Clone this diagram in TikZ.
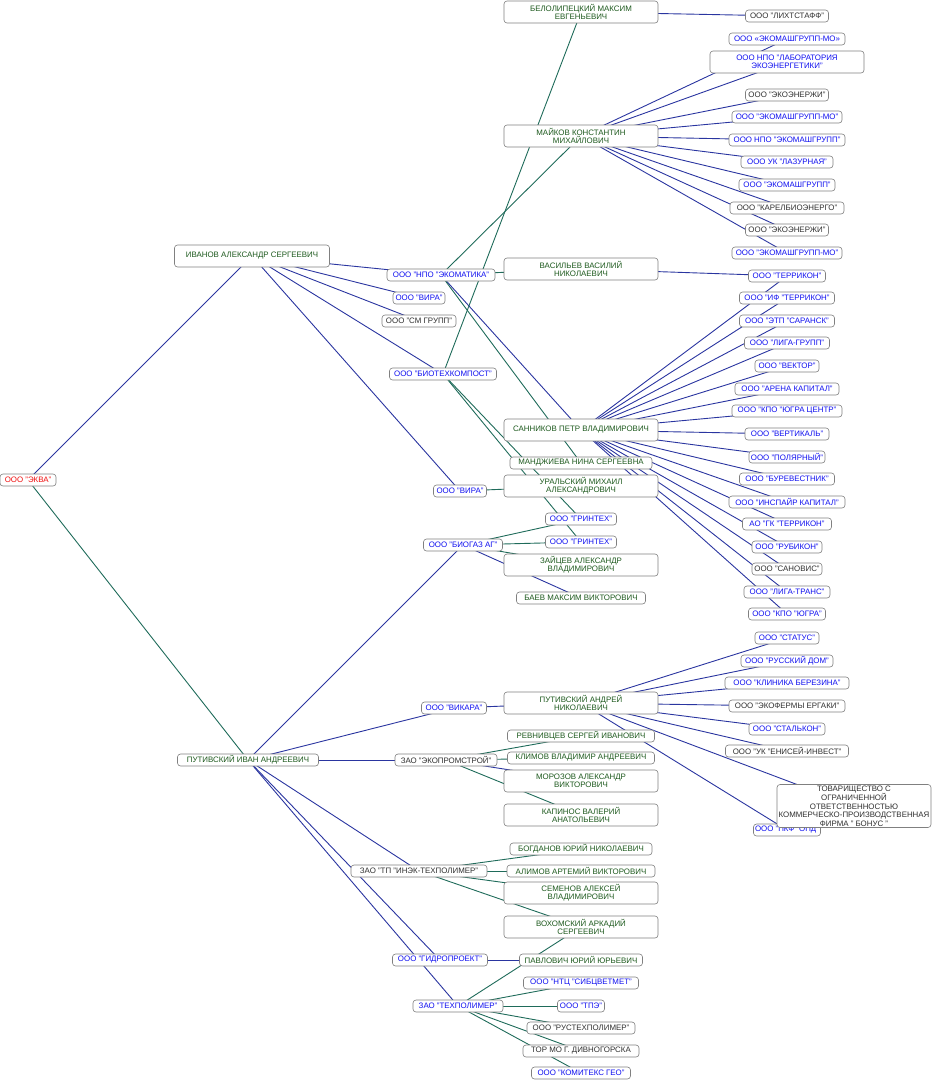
\documentclass[tikz,border=0pt]{standalone}
\usepackage{fontspec}
\setmainfont{Liberation Sans}
\usetikzlibrary{backgrounds}
\definecolor{eblue}{HTML}{2A35A0}
\definecolor{egreen}{HTML}{1F6B5A}
\definecolor{tblue}{HTML}{1010F0}
\definecolor{tgreen}{HTML}{1E5A1E}
\definecolor{tblack}{HTML}{303030}
\definecolor{tred}{HTML}{F01010}
\definecolor{bord}{HTML}{808080}
\begin{document}
\begin{tikzpicture}[x=1pt,y=-1pt,
 bx/.style={draw=bord, rounded corners=3pt, fill=white, inner sep=0pt, align=center, font=\fontsize{7.9}{8.4}\selectfont, line width=0.6pt},
 co/.style={bx, minimum width=#1, minimum height=12pt},
 pe/.style={bx, minimum width=154pt, minimum height=22pt, text=tgreen},
 pl/.style={bx, minimum width=#1, minimum height=12pt, text=tgreen},
 cb/.style={co=#1, text=tblue},
 ck/.style={co=#1, text=tblack},
 eb/.style={draw=eblue, line width=0.9pt},
 eg/.style={draw=egreen, line width=0.9pt}]
\useasboundingbox (0,0) rectangle (935,1080);

% left
\node[co=56, text=tred] (ekva) at (28,480) {ООО "ЭКВА"};
\node[pe, minimum width=155pt] (iva) at (252,256) {ИВАНОВ АЛЕКСАНДР СЕРГЕЕВИЧ};
\node[pl=141] (put) at (248,760) {ПУТИВСКИЙ ИВАН АНДРЕЕВИЧ};

\node[cb=108] (npo) at (441,275) {ООО "НПО "ЭКОМАТИКА"};
\node[cb=52] (vira1) at (419,298) {ООО "ВИРА"};
\node[ck=74] (smgr) at (419,321) {ООО "СМ ГРУПП"};
\node[cb=107] (bio) at (443,374) {ООО "БИОТЕХКОМПОСТ"};
\node[cb=53] (vira2) at (460,491) {ООО "ВИРА"};
\node[cb=79] (bgz) at (463,545) {ООО "БИОГАЗ АГ"};
\node[cb=65] (vik) at (454,708) {ООО "ВИКАРА"};
\node[ck=102] (eps) at (446,760) {ЗАО "ЭКОПРОМСТРОЙ"};
\node[ck=136] (inek) at (419,871) {ЗАО "ТП "ИНЭК-ТЕХПОЛИМЕР"};
\node[cb=95] (gidro) at (440,960) {ООО "ГИДРОПРОЕКТ"};
\node[cb=90] (tp) at (458,1006) {ЗАО "ТЕХПОЛИМЕР"};

% middle column
\node[pe] (bel) at (581,12) {БЕЛОЛИПЕЦКИЙ МАКСИМ\\ЕВГЕНЬЕВИЧ};
\node[pe] (mai) at (581,136) {МАЙКОВ КОНСТАНТИН\\МИХАЙЛОВИЧ};
\node[pe] (vas) at (581,269) {ВАСИЛЬЕВ ВАСИЛИЙ\\НИКОЛАЕВИЧ};
\node[pe] (san) at (581,430) {САННИКОВ ПЕТР ВЛАДИМИРОВИЧ};
\node[pl=142] (man) at (581,463) {МАНДЖИЕВА НИНА СЕРГЕЕВНА};
\node[pe] (ural) at (581,486) {УРАЛЬСКИЙ МИХАИЛ\\АЛЕКСАНДРОВИЧ};
\node[cb=71] (gr1) at (581,519) {ООО "ГРИНТЕХ"};
\node[cb=71] (gr2) at (581,542) {ООО "ГРИНТЕХ"};
\node[pe] (zai) at (581,565) {ЗАЙЦЕВ АЛЕКСАНДР\\ВЛАДИМИРОВИЧ};
\node[pl=129] (bae) at (581,598) {БАЕВ МАКСИМ ВИКТОРОВИЧ};
\node[pe] (pan) at (581,703) {ПУТИВСКИЙ АНДРЕЙ\\НИКОЛАЕВИЧ};
\node[pl=147] (rev) at (581,736) {РЕВНИВЦЕВ СЕРГЕЙ ИВАНОВИЧ};
\node[pl=147] (kli) at (581,758) {КЛИМОВ ВЛАДИМИР АНДРЕЕВИЧ};
\node[pe] (mor) at (581,781) {МОРОЗОВ АЛЕКСАНДР\\ВИКТОРОВИЧ};
\node[pe] (kap) at (581,815) {КАПИНОС ВАЛЕРИЙ\\АНАТОЛЬЕВИЧ};
\node[pl=142] (bog) at (581,849) {БОГДАНОВ ЮРИЙ НИКОЛАЕВИЧ};
\node[pl=148] (ali) at (581,871) {АЛИМОВ АРТЕМИЙ ВИКТОРОВИЧ};
\node[pe] (sem) at (581,893) {СЕМЕНОВ АЛЕКСЕЙ\\ВЛАДИМИРОВИЧ};
\node[pe] (vox) at (581,927) {ВОХОМСКИЙ АРКАДИЙ\\СЕРГЕЕВИЧ};
\node[pl=123] (pav) at (581,960) {ПАВЛОВИЧ ЮРИЙ ЮРЬЕВИЧ};
\node[cb=115] (ntc) at (581,983) {ООО "НТЦ "СИБЦВЕТМЕТ"};
\node[cb=47] (tpe) at (581,1006) {ООО "ТПЭ"};
\node[ck=108] (rus) at (581,1028) {ООО "РУСТЕХПОЛИМЕР"};
\node[ck=116] (tor) at (581,1051) {ТОР МО Г. ДИВНОГОРСКА};
\node[cb=99] (kom) at (581,1073) {ООО "КОМИТЕКС ГЕО"};

% right column
\node[ck=83] (lih) at (787,16) {ООО "ЛИХТСТАФФ"};
\node[cb=116] (em1) at (787,39) {ООО «ЭКОМАШГРУПП-МО»};
\node[cb=154, minimum height=22pt] (lab) at (787,62) {ООО НПО "ЛАБОРАТОРИЯ\\ЭКОЭНЕРГЕТИКИ"};
\node[ck=83] (ee1) at (787,95) {ООО "ЭКОЭНЕРЖИ"};
\node[cb=110] (em2) at (787,117) {ООО "ЭКОМАШГРУПП-МО"};
\node[cb=116] (npoem) at (787,140) {ООО НПО "ЭКОМАШГРУПП"};
\node[cb=92] (laz) at (787,162) {ООО УК "ЛАЗУРНАЯ"};
\node[cb=96] (em3) at (787,185) {ООО "ЭКОМАШГРУПП"};
\node[ck=114] (kar) at (787,208) {ООО "КАРЕЛБИОЭНЕРГО"};
\node[ck=83] (ee2) at (787,230) {ООО "ЭКОЭНЕРЖИ"};
\node[cb=110] (em4) at (787,253) {ООО "ЭКОМАШГРУПП-МО"};
\node[cb=77] (ter) at (787,276) {ООО "ТЕРРИКОН"};
\node[cb=95] (ift) at (787,298) {ООО "ИФ "ТЕРРИКОН"};
\node[cb=95] (etp) at (787,321) {ООО "ЭТП "САРАНСК"};
\node[cb=85] (lg) at (787,343) {ООО "ЛИГА-ГРУПП"};
\node[cb=64] (vek) at (787,366) {ООО "ВЕКТОР"};
\node[cb=104] (ar) at (787,389) {ООО "АРЕНА КАПИТАЛ"};
\node[cb=110] (kpoc) at (787,411) {ООО "КПО "ЮГРА ЦЕНТР"};
\node[cb=84] (ver) at (787,434) {ООО "ВЕРТИКАЛЬ"};
\node[cb=76] (pol) at (787,457) {ООО "ПОЛЯРНЫЙ"};
\node[cb=95] (bur) at (787,479) {ООО "БУРЕВЕСТНИК"};
\node[cb=116] (ins) at (787,502) {ООО "ИНСПАЙР КАПИТАЛ"};
\node[cb=89] (aogk) at (787,524) {АО "ГК "ТЕРРИКОН"};
\node[cb=70] (rub) at (787,547) {ООО "РУБИКОН"};
\node[ck=70] (sanov) at (787,569) {ООО "САНОВИС"};
\node[cb=86] (lt) at (787,592) {ООО "ЛИГА-ТРАНС"};
\node[cb=77] (kpo) at (787,614) {ООО "КПО "ЮГРА"};
\node[cb=64] (sta) at (787,638) {ООО "СТАТУС"};
\node[cb=92] (rd) at (787,661) {ООО "РУССКИЙ ДОМ"};
\node[cb=124] (kb) at (787,683) {ООО "КЛИНИКА БЕРЕЗИНА"};
\node[ck=116] (erg) at (787,706) {ООО "ЭКОФЕРМЫ ЕРГАКИ"};
\node[cb=76] (stal) at (787,729) {ООО "СТАЛЬКОН"};
\node[ck=123] (eni) at (787,751) {ООО "УК "ЕНИСЕЙ-ИНВЕСТ"};
\node[cb=67] (pkf) at (787,830) {ООО "ПКФ "ОПД"};
\node[ck=154, minimum height=43pt] (tov) at (854,806) {ТОВАРИЩЕСТВО С\\ОГРАНИЧЕННОЙ\\ОТВЕТСТВЕННОСТЬЮ\\КОММЕРЧЕСКО-ПРОИЗВОДСТВЕННАЯ\\ФИРМА " БОНУС "};

\begin{scope}[on background layer]
\draw[eb] (ekva.center) -- (iva.center);
\draw[eg] (ekva.center) -- (put.center);
\foreach \t in {npo,vira1,smgr,bio,vira2} \draw[eb] (iva.center) -- (\t.center);
\draw[eb] (npo.center) -- (san.center);
\foreach \t in {mai,vas,man} \draw[eg] (npo.center) -- (\t.center);
\foreach \t in {bel,gr1,gr2} \draw[eg] (bio.center) -- (\t.center);
\draw[eg] (vira2.center) -- (ural.center);
\draw[eb] (bel.center) -- (lih.center);
\foreach \t in {em1,lab,ee1,em2,npoem,laz,em3,kar,ee2,em4} \draw[eb] (mai.center) -- (\t.center);
\draw[eb] (vas.center) -- (ter.center);
\foreach \t in {ter,ift,etp,lg,vek,ar,kpoc,ver,pol,bur,ins,aogk,rub,sanov,lt,kpo} \draw[eb] (san.center) -- (\t.center);
\foreach \t in {gr1,gr2,zai} \draw[eg] (bgz.center) -- (\t.center);
\draw[eb] (bgz.center) -- (bae.center);
\foreach \t in {bgz,vik,eps,inek,gidro,tp} \draw[eb] (put.center) -- (\t.center);
\draw[eb] (vik.center) -- (pan.center);
\foreach \t in {sta,rd,kb,erg,stal,eni,tov,pkf} \draw[eb] (pan.center) -- (\t.center);
\foreach \t in {rev,kli,kap} \draw[eg] (eps.center) -- (\t.center);
\draw[eb] (eps.center) -- (mor.center);
\foreach \t in {bog,ali,sem,vox} \draw[eg] (inek.center) -- (\t.center);
\draw[eb] (gidro.center) -- (pav.center);
\foreach \t in {vox,ntc,tpe,rus,tor,kom} \draw[eg] (tp.center) -- (\t.center);
\end{scope}
\end{tikzpicture}
\end{document}
